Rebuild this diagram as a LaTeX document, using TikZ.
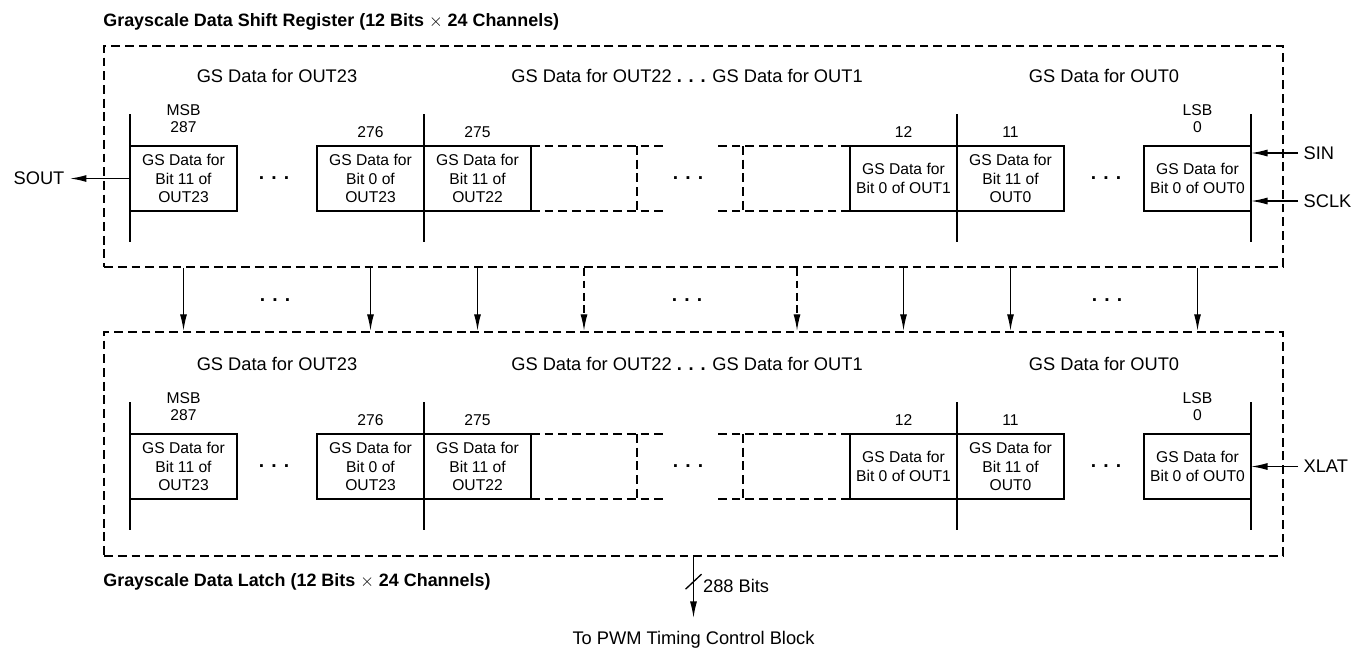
\documentclass[tikz,border=0pt]{standalone}
\usepackage{fontspec}
\setmainfont{Liberation Sans}
\usetikzlibrary{positioning}
\usetikzlibrary{arrows.meta}
\tikzset{
  cell/.style={draw, line width=1.4pt, outer sep=0pt, minimum width=2.14cm, minimum height=1.3cm,
    inner sep=0pt, align=center, font=\fontsize{8.9}{10.6}\selectfont},
  regbox/.style={draw, line width=1.4pt, dash pattern=on 5pt off 2.8pt, minimum width=23.58cm,
    minimum height=4.42cm, inner sep=0pt},
  dashedge/.style={line width=1.4pt, dash pattern=on 5pt off 2.8pt},
  wire/.style={line width=0.75pt},
  numlabel/.style={inner sep=0pt, align=center, font=\fontsize{8.9}{9.6}\selectfont},
  grouplabel/.style={inner sep=0pt, font=\fontsize{10.4}{12}\selectfont},
  sigtext/.style={inner sep=3pt, font=\fontsize{10.4}{12}\selectfont},
  titletext/.style={anchor=west, inner sep=0pt, font=\fontsize{10.2}{12}\selectfont\bfseries},
  gapdots/.style={inner sep=0pt, font=\fontsize{11}{12}\selectfont\bfseries},
}

\begin{document}
\begin{tikzpicture}[x=0.02cm, y=-0.02cm, >={Latex[length=3.3mm,width=1.4mm]}]
        \useasboundingbox (0,0) rectangle (1355,650);
        %Titres
        \node[titletext] (srtitle) at (103,22) {Grayscale Data Shift Register (12 Bits {\mdseries$\times$} 24 Channels)};
        \node[titletext] (lttitle) at (103,582) {Grayscale Data Latch (12 Bits {\mdseries$\times$} 24 Channels)};
        %Registres
        \node[regbox] (sr) at (693.5,156.5) {};
        \node[regbox, minimum height=4.48cm] (lt) at (693.5,444) {};
        %Textes groupes
        \node[grouplabel] (sr23) at (277,76) {GS Data for OUT23};
        \node[grouplabel] (srmid) at (687,76) {GS Data for OUT22 \textbf{. . .} GS Data for OUT1};
        \node[grouplabel] (sr0) at (1104,76) {GS Data for OUT0};
        \node[grouplabel] (lt23) at (277,364) {GS Data for OUT23};
        \node[grouplabel] (ltmid) at (687,364) {GS Data for OUT22 \textbf{. . .} GS Data for OUT1};
        \node[grouplabel] (lt0) at (1104,364) {GS Data for OUT0};
        %Cases registre a decalage
        \node[cell] (a1) at (183.5,178.5) {GS Data for\\Bit 11 of\\OUT23};
        \node[cell] (a2) at (370.5,178.5) {GS Data for\\Bit 0 of\\OUT23};
        \node[cell] (a3) at (477.5,178.5) {GS Data for\\Bit 11 of\\OUT22};
        \node[cell] (a4) at (903.5,178.5) {GS Data for\\Bit 0 of OUT1};
        \node[cell] (a5) at (1010.5,178.5) {GS Data for\\Bit 11 of\\OUT0};
        \node[cell] (a6) at (1197.5,178.5) {GS Data for\\Bit 0 of OUT0};
        \coordinate (ad1) at (584,178.5); \coordinate (ad2) at (797,178.5);
        %Cases latch
        \node[cell] (b1) at (183.5,466.5) {GS Data for\\Bit 11 of\\OUT23};
        \node[cell] (b2) at (370.5,466.5) {GS Data for\\Bit 0 of\\OUT23};
        \node[cell] (b3) at (477.5,466.5) {GS Data for\\Bit 11 of\\OUT22};
        \node[cell] (b4) at (903.5,466.5) {GS Data for\\Bit 0 of OUT1};
        \node[cell] (b5) at (1010.5,466.5) {GS Data for\\Bit 11 of\\OUT0};
        \node[cell] (b6) at (1197.5,466.5) {GS Data for\\Bit 0 of OUT0};
        \coordinate (bd1) at (584,466.5); \coordinate (bd2) at (797,466.5);
        %Cases pointillees
        \draw[dashedge] (a3.north east) -- ++(134,0); \draw[dashedge] (a3.south east) -- ++(134,0);
        \draw[dashedge] (a4.north west) -- ++(-135,0); \draw[dashedge] (a4.south west) -- ++(-135,0);
        \draw[dashedge] ([xshift=2.12cm]a3.north east) -- ([xshift=2.12cm]a3.south east);
        \draw[dashedge] ([xshift=-2.14cm]a4.north west) -- ([xshift=-2.14cm]a4.south west);
        \draw[dashedge] (b3.north east) -- ++(134,0); \draw[dashedge] (b3.south east) -- ++(134,0);
        \draw[dashedge] (b4.north west) -- ++(-135,0); \draw[dashedge] (b4.south west) -- ++(-135,0);
        \draw[dashedge] ([xshift=2.12cm]b3.north east) -- ([xshift=2.12cm]b3.south east);
        \draw[dashedge] ([xshift=-2.14cm]b4.north west) -- ([xshift=-2.14cm]b4.south west);
        %Points de suspension
        \node[gapdots] (ga1) at (274,178.5) {. . .}; \node[gapdots] (ga2) at (688,178.5) {. . .}; \node[gapdots] (ga3) at (1106,178.5) {. . .};
        \node[gapdots] (gb1) at (274,466.5) {. . .}; \node[gapdots] (gb2) at (688,466.5) {. . .}; \node[gapdots] (gb3) at (1106,466.5) {. . .};
        \node[gapdots] (gm1) at (275,300) {. . .}; \node[gapdots] (gm2) at (687,300) {. . .}; \node[gapdots] (gm3) at (1107,300) {. . .};
        %Traits verticaux
        \draw[wire] ([yshift=0.64cm]a1.north west) -- ([yshift=-0.62cm]a1.south west);
        \draw[wire] ([yshift=0.64cm]a2.north east) -- ([yshift=-0.62cm]a2.south east);
        \draw[wire] ([yshift=0.64cm]a4.north east) -- ([yshift=-0.62cm]a4.south east);
        \draw[wire] ([yshift=0.64cm]a6.north east) -- ([yshift=-0.62cm]a6.south east);
        \draw[wire] ([yshift=0.64cm]b1.north west) -- ([yshift=-0.62cm]b1.south west);
        \draw[wire] ([yshift=0.64cm]b2.north east) -- ([yshift=-0.62cm]b2.south east);
        \draw[wire] ([yshift=0.64cm]b4.north east) -- ([yshift=-0.62cm]b4.south east);
        \draw[wire] ([yshift=0.64cm]b6.north east) -- ([yshift=-0.62cm]b6.south east);
        %Numeros de bits
        \node[numlabel, above=0.27cm of a1] (na1) {MSB\\287};
        \node[numlabel, above=0.17cm of a2] (na2) {276};
        \node[numlabel, above=0.17cm of a3] (na3) {275};
        \node[numlabel, above=0.17cm of a4] (na4) {12};
        \node[numlabel, above=0.17cm of a5] (na5) {11};
        \node[numlabel, above=0.27cm of a6] (na6) {LSB\\0};
        \node[numlabel, above=0.27cm of b1] (nb1) {MSB\\287};
        \node[numlabel, above=0.17cm of b2] (nb2) {276};
        \node[numlabel, above=0.17cm of b3] (nb3) {275};
        \node[numlabel, above=0.17cm of b4] (nb4) {12};
        \node[numlabel, above=0.17cm of b5] (nb5) {11};
        \node[numlabel, above=0.27cm of b6] (nb6) {LSB\\0};
        %Signaux
        \node[sigtext, anchor=east] (sout) at (70,178.5) {SOUT};
        \node[sigtext, anchor=west] (sin) at (1298,153) {SIN};
        \node[sigtext, anchor=west] (sclk) at (1298,201) {SCLK};
        \node[sigtext, anchor=west] (xlat) at (1298,466.5) {XLAT};
        \draw[->, wire] (a1.west) -- (sout.east);
        \draw[->, wire] (sin.west) -- (sin.west -| a6.east);
        \draw[->, wire] (sclk.west) -- (sclk.west -| a6.east);
        \draw[->, wire] (xlat.west) -- (b6.east);
        %Fleches registre vers latch
        \draw[->, wire] (a1 |- sr.south) -- (b1 |- lt.north);
        \draw[->, wire] (a2 |- sr.south) -- (b2 |- lt.north);
        \draw[->, wire] (a3 |- sr.south) -- (b3 |- lt.north);
        \draw[->, wire, dash pattern=on 4.5pt off 2.5pt] (ad1 |- sr.south) -- (bd1 |- lt.north);
        \draw[->, wire, dash pattern=on 4.5pt off 2.5pt] (ad2 |- sr.south) -- (bd2 |- lt.north);
        \draw[->, wire] (a4 |- sr.south) -- (b4 |- lt.north);
        \draw[->, wire] (a5 |- sr.south) -- (b5 |- lt.north);
        \draw[->, wire] (a6 |- sr.south) -- (b6 |- lt.north);
        %Sortie
        \node[sigtext, inner ysep=7.5pt] (pwm) at (693.5,640) {To PWM Timing Control Block};
        \node[sigtext, anchor=west, inner sep=1pt] (bits) at (701,586) {288 Bits};
        \draw[->, wire] (lt.south) -- (pwm.north);
        \draw[wire] ([shift={(-8,32)}]lt.south) -- ++(16,-15);
\end{tikzpicture}
\end{document}
